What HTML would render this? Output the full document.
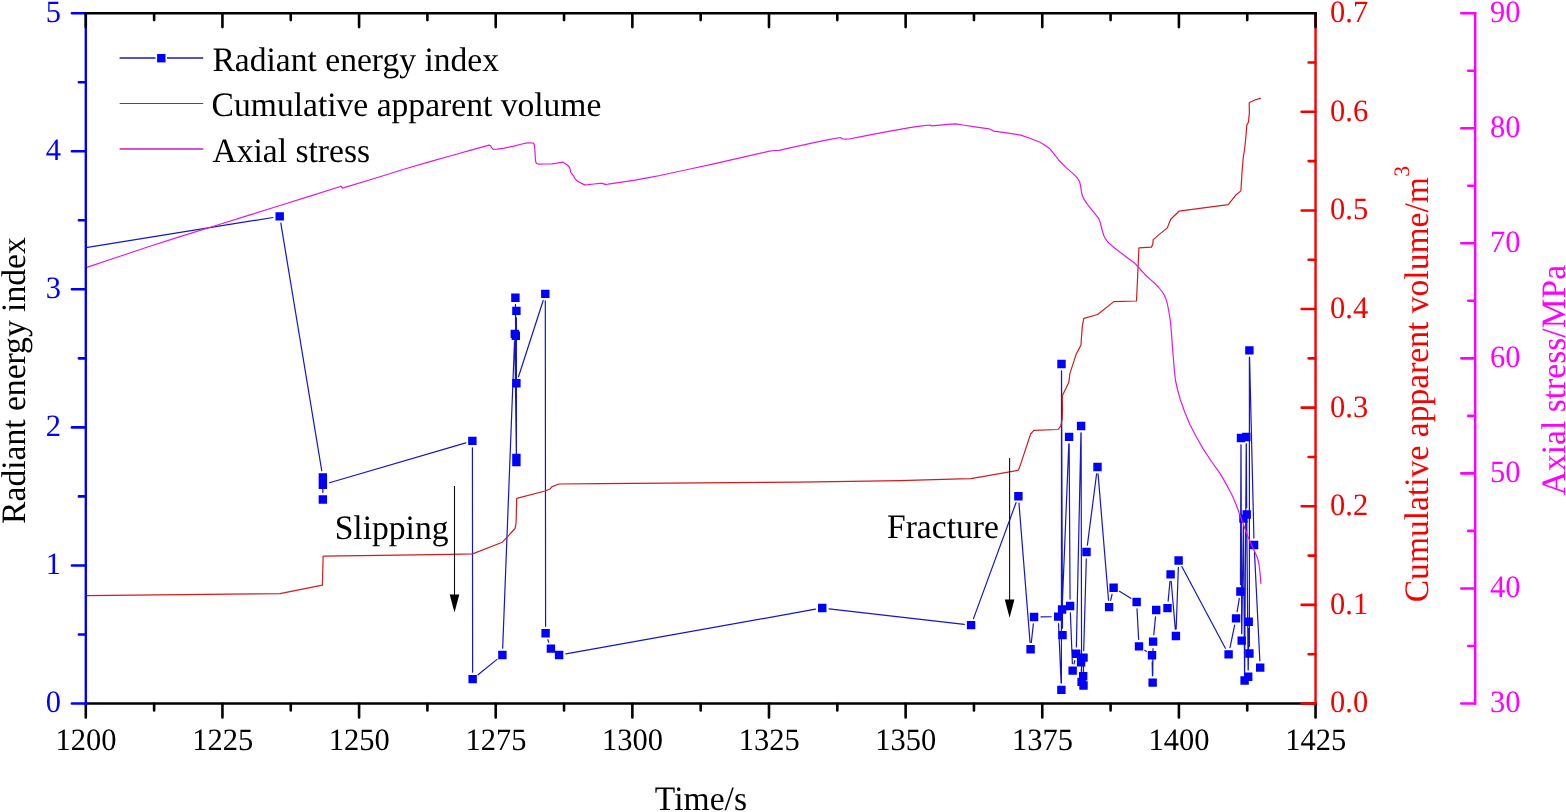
<!DOCTYPE html>
<html lang="en"><head><meta charset="utf-8"><title>Radiant energy index, cumulative apparent volume and axial stress versus time</title>
<style>
html,body{margin:0;padding:0;background:#fff;}
body{width:1566px;height:812px;overflow:hidden;}
svg{display:block;}
text{font-family:"Liberation Serif",serif;text-rendering:geometricPrecision;}
.t{font-size:33.6px;}
.l{font-size:30.5px;}
.ax{fill:none;stroke-width:2.4;stroke-linecap:square;}
.tk{fill:none;stroke-width:2.6;stroke-linecap:round;}
.d{fill:none;stroke-width:1.2;stroke-linejoin:round;stroke-linecap:round;}
</style></head><body>
<svg width="1566" height="812" viewBox="0 0 1566 812" role="img" aria-label="Radiant energy index, cumulative apparent volume and axial stress versus time">
<rect width="1566" height="812" fill="#fff"/>
<g id="curves">
<path class="d" stroke="#1616c4" d="M86 247.6L272.89 217.5M280.83 223.21L321.73 470.59M322.86 484.3L322.86 492.55M322.86 492.55L322.86 491.6M329.48 482.76L465.78 442.84M472.41 447.8L472.64 672.2M478.02 674.76L497.03 659.39M502.67 648.16L514.53 340.79M514.89 340.8L516.31 451M516.4 451L516.4 317.8M516.4 317.8L516.4 455.1M516.36 455.1L515.44 304.7M515.47 304.7L515.73 328.9M515.89 342.7L516.31 376.4M518.52 376.73L543.18 300.47M545.31 300.8L545.59 626.3M547.85 639.72L548.65 642.08M565.89 653.84L815.46 609.21M829.1 608.79L964.25 624.31M973.48 618.62L1016.02 502.68M1018.95 503.08L1030.05 642.42M1031.34 642.44L1033.36 623.91M1041 616.92L1051.3 616.73M1058.5 623.49L1061.1 683.01M1061.4 683L1061.5 370.9M1061.53 370.9L1062.47 628.2M1062.39 628.2L1062.21 616.4M1062.38 602.61L1068.82 443.79M1069.14 443.8L1070.06 599.1M1070.37 612.89L1072.38 663.71M1074.08 663.85L1074.77 660.55M1076.35 646.9L1080.95 432.9M1081.11 432.9L1081.59 675M1081.42 675L1081.28 669.2M1083.5 678.6L1083.5 664.5M1083.7 650.7L1086.3 558.9M1087.39 545.16L1096.61 473.79M1098.07 473.83L1108.53 600.22M1110.66 600.38L1112.04 594.42M1119.46 591.34L1130.79 598.36M1137.01 608.89L1138.64 639.51M1144.71 650.27L1146.29 651.33M1152.16 662.1L1152.49 675.7M1152.73 675.7L1153.02 648.5M1153.77 634.73L1155.53 616.87M1168.13 601.23L1169.97 581.27M1171.19 581.27L1175.31 629.13M1176.15 629.1L1178.35 567.4M1181.84 566.59L1225.36 648.31M1230 647.64L1234.65 625.16M1237.15 611.59L1239.3 598.31M1240.43 584.6L1240.97 444.95M1241.02 444.95L1241.68 633.7M1241.8 633.7L1243.35 525.5M1243.5 525.5L1244.55 673.6M1244.65 673.6L1246.25 443.9M1246.34 443.9L1246.66 507.6M1246.76 521.4L1248.14 669.9M1248.26 669.9L1248.64 628.7M1248.85 628.7L1249.25 646.6M1249.4 646.6L1249.4 357.3M1249.57 357.3L1253.93 538.1M1254.44 551.89L1259.86 660.71"/>
<path fill="#0000ff" d="M275.5 212.2h8.4v8.4h-8.4zM318.66 473.2h8.4v8.4h-8.4zM318.66 495.25h8.4v8.4h-8.4zM318.66 480.5h8.4v8.4h-8.4zM468.2 436.7h8.4v8.4h-8.4zM468.45 674.9h8.4v8.4h-8.4zM498.2 650.85h8.4v8.4h-8.4zM510.6 329.7h8.4v8.4h-8.4zM512.2 453.7h8.4v8.4h-8.4zM512.2 306.7h8.4v8.4h-8.4zM512.2 457.8h8.4v8.4h-8.4zM511.2 293.6h8.4v8.4h-8.4zM511.6 331.6h8.4v8.4h-8.4zM512.2 379.1h8.4v8.4h-8.4zM541.1 289.7h8.4v8.4h-8.4zM541.4 629h8.4v8.4h-8.4zM546.7 644.4h8.4v8.4h-8.4zM554.9 650.85h8.4v8.4h-8.4zM818.05 603.8h8.4v8.4h-8.4zM966.9 620.9h8.4v8.4h-8.4zM1014.2 492h8.4v8.4h-8.4zM1026.4 645.1h8.4v8.4h-8.4zM1029.9 612.85h8.4v8.4h-8.4zM1054 612.4h8.4v8.4h-8.4zM1057.2 685.7h8.4v8.4h-8.4zM1057.3 359.8h8.4v8.4h-8.4zM1058.3 630.9h8.4v8.4h-8.4zM1057.9 605.3h8.4v8.4h-8.4zM1064.9 432.7h8.4v8.4h-8.4zM1065.9 601.8h8.4v8.4h-8.4zM1068.45 666.4h8.4v8.4h-8.4zM1072 649.6h8.4v8.4h-8.4zM1076.9 421.8h8.4v8.4h-8.4zM1077.4 677.7h8.4v8.4h-8.4zM1076.9 658.1h8.4v8.4h-8.4zM1079 672h8.4v8.4h-8.4zM1079.3 681.3h8.4v8.4h-8.4zM1079.3 653.4h8.4v8.4h-8.4zM1082.3 547.8h8.4v8.4h-8.4zM1093.3 462.75h8.4v8.4h-8.4zM1104.9 602.9h8.4v8.4h-8.4zM1109.4 583.5h8.4v8.4h-8.4zM1132.45 597.8h8.4v8.4h-8.4zM1134.8 642.2h8.4v8.4h-8.4zM1147.8 651h8.4v8.4h-8.4zM1148.45 678.4h8.4v8.4h-8.4zM1148.9 637.4h8.4v8.4h-8.4zM1152 605.8h8.4v8.4h-8.4zM1163.3 603.9h8.4v8.4h-8.4zM1166.4 570.2h8.4v8.4h-8.4zM1171.7 631.8h8.4v8.4h-8.4zM1174.4 556.3h8.4v8.4h-8.4zM1224.4 650.2h8.4v8.4h-8.4zM1231.85 614.2h8.4v8.4h-8.4zM1236.2 587.3h8.4v8.4h-8.4zM1236.8 433.85h8.4v8.4h-8.4zM1237.5 636.4h8.4v8.4h-8.4zM1239.25 514.4h8.4v8.4h-8.4zM1240.4 676.3h8.4v8.4h-8.4zM1242.1 432.8h8.4v8.4h-8.4zM1242.5 510.3h8.4v8.4h-8.4zM1244 672.6h8.4v8.4h-8.4zM1244.5 617.6h8.4v8.4h-8.4zM1245.2 649.3h8.4v8.4h-8.4zM1245.2 346.2h8.4v8.4h-8.4zM1249.9 540.8h8.4v8.4h-8.4zM1256 663.4h8.4v8.4h-8.4z"/>
<polyline class="d" stroke="#d01c20" points="86,595.7 230,594.15 279.9,593.6 322.4,585.2 322.8,570 323.1,556.2 380,555.3 450,554.4 472.6,553.9 502.3,542.2 507.6,536.7 515.1,528.5 516.1,522.7 516.4,510 516.7,498.3 545.1,491 550.4,488.8 551.6,486.9 559,484 600,483.6 700,482.9 800,482.2 900,480.6 960,478.9 971,478.6 1018.1,470.3 1019.5,467.6 1030.6,434 1033.9,430.3 1058,429.5 1060.8,425.8 1062.2,419.1 1062.5,410 1062.3,395.7 1068.9,382.3 1069.85,373.6 1076.1,354.4 1080.9,345.3 1081.6,336 1082.3,326.4 1083.8,318.4 1097.6,314.5 1113.9,301.6 1136.5,301 1137.7,275 1138.9,247.8 1151.4,247.1 1152.8,244.4 1153.2,239.6 1159,234.6 1167.3,227.9 1170.7,219.3 1179,211.2 1228.3,204.7 1236.1,194.7 1240.9,190.9 1241.9,174 1243.3,157 1244.5,150 1246,135.7 1246.8,125.1 1248.4,122.3 1249.4,112.7 1249.2,102.8 1254.7,100 1260.4,98.4"/>
<polyline class="d" stroke="#e218e2" points="86,267.6 120,256.2 150,246.3 180,236.6 214.4,226 250,214.9 280,205.5 310,196.1 341.2,186.3 342.5,188.1 345,187.4 380,176.8 404.6,169 430,161.6 454.5,154.75 470,150.4 489.1,145.1 490.6,145.7 492,148.2 493.2,149.4 497,149.2 504.4,148.2 515,145.8 522,144 525.9,143.1 529,142.9 533.1,143 534.2,144.3 534.8,148.4 535.3,158 535.7,161.9 536.6,163.5 538.5,164.1 545,164 551.9,163.8 557,163.2 562.9,162.2 565,163.4 567.5,165.3 569.3,167 570.2,169.5 570.8,172.4 572,174 573.5,175.8 574.9,178.6 576.5,180.3 578.7,182 581.5,183.4 584.7,184.9 588,184.7 594,184 599.9,183.4 602.5,183.4 604.9,184.4 608,184.1 620,182.4 635,180.1 650,177.4 660,175.5 690,169 713.8,163.9 740,157.8 769.5,151.1 774,150.5 779.1,150.3 790,147.9 817.5,141.9 830,139.4 840.5,137.5 842.3,139 845,139.2 849.2,139 860,136.8 871.3,134.6 890,131.1 909.7,127.6 920,126.2 929.8,125 931.6,125.9 940,125.1 948,124.3 955.4,123.9 959,124.4 963,125 975,126.8 989,128.8 991.5,130 993.8,131.1 1005,132.7 1020.7,135.1 1030,138.2 1039.9,142.3 1045,145.2 1049.5,148.4 1054,153.8 1059.1,160.5 1066,167.4 1074.4,174.9 1077.5,178.2 1079.6,181.6 1080.6,186 1081.3,191 1082.1,195.1 1084,199.2 1086.9,203.7 1092,210.2 1098.4,218.1 1100.3,222.5 1101.5,227.5 1102.4,231 1103.9,235.8 1105.5,238.8 1108.2,242.5 1112,245.8 1116.8,249.7 1125,255.9 1135.1,263.6 1140,269 1144.7,274.2 1150,279.1 1155.2,283.8 1158.8,287.5 1162,291.5 1164.2,295 1165.8,298.4 1167.2,303 1168.3,308.5 1169.6,316 1170.6,323 1171.6,335 1172.5,347.6 1173.5,360 1174.4,370.6 1175.4,380 1177.5,389.5 1180.2,399.2 1184.5,411.5 1189.8,424.2 1196,436.3 1203.3,449.1 1211.5,461.5 1220.5,474.1 1226.5,484.6 1232.1,495.2 1236,504.2 1239.7,514.4 1243.5,524.8 1247.6,535.7 1252.5,547 1256,554.6 1257.6,558.3 1258.6,562.5 1259.5,568 1260.1,574 1260.6,579 1260.9,583.4"/>
</g>
<g id="annotations" fill="#000">
<line x1="454.5" y1="486" x2="454.5" y2="595.4" stroke="#111" stroke-width="1.1"/>
<path d="M449.7 594.4L459.3 594.4L454.5 612.6Z"/>
<line x1="1009.6" y1="458" x2="1009.6" y2="600.6" stroke="#111" stroke-width="1.1"/>
<path d="M1004.8 599.6L1014.4 599.6L1009.6 617.8Z"/>
<text transform="translate(391.6 538.6) scale(1 1.02)" text-anchor="middle" class="t">Slipping</text>
<text transform="translate(942.9 538) scale(1 1.02)" text-anchor="middle" class="t">Fracture</text>
</g>
<g id="legend">
<path class="d" style="stroke-linecap:butt;stroke-width:1.3" stroke="#1c1ca4" d="M119.6 58H155.6M167 58H203.2"/>
<rect x="157.1" y="54" width="8.4" height="8.4" fill="#0000ff"/>
<path class="d" style="stroke-linecap:butt" stroke="#d01c20" d="M119.6 103.5H203.2"/>
<path class="d" style="stroke-linecap:butt;stroke-width:1.3" stroke="#c01cc0" d="M119.6 149H203.2"/>
<text transform="translate(212.4 70.8) scale(1 1.02)" class="t">Radiant energy index</text>
<text transform="translate(211.6 116.4) scale(1 1.02)" class="t">Cumulative apparent volume</text>
<text transform="translate(212.4 162) scale(1 1.02)" class="t">Axial stress</text>
</g>
<g id="axis-bottom" stroke="#000">
<path class="ax" d="M85.8 703.5H1315.55"/>
<path class="tk" d="M85.8 703.8L85.8 717.4M154.12 703.8L154.12 710.4M222.44 703.8L222.44 717.4M290.76 703.8L290.76 710.4M359.08 703.8L359.08 717.4M427.4 703.8L427.4 710.4M495.72 703.8L495.72 717.4M564.04 703.8L564.04 710.4M632.36 703.8L632.36 717.4M700.67 703.8L700.67 710.4M768.99 703.8L768.99 717.4M837.31 703.8L837.31 710.4M905.63 703.8L905.63 717.4M973.95 703.8L973.95 710.4M1042.27 703.8L1042.27 717.4M1110.59 703.8L1110.59 710.4M1178.91 703.8L1178.91 717.4M1247.23 703.8L1247.23 710.4M1315.55 703.8L1315.55 717.4"/>
</g>
<g id="axis-left" stroke="#0000ff">
<path class="ax" d="M85.8 13.2V703.5"/>
<path class="tk" d="M85.5 703.5L71.9 703.5M85.5 634.47L78.9 634.47M85.5 565.44L71.9 565.44M85.5 496.41L78.9 496.41M85.5 427.38L71.9 427.38M85.5 358.35L78.9 358.35M85.5 289.32L71.9 289.32M85.5 220.29L78.9 220.29M85.5 151.26L71.9 151.26M85.5 82.23L78.9 82.23M85.5 13.2L71.9 13.2"/>
</g>
<g id="axis-right" stroke="#f60000">
<path class="ax" d="M1315.55 13.2V703.5"/>
<path class="tk" d="M1315.25 703.5L1301.65 703.5M1315.25 654.19L1308.65 654.19M1315.25 604.89L1301.65 604.89M1315.25 555.58L1308.65 555.58M1315.25 506.27L1301.65 506.27M1315.25 456.96L1308.65 456.96M1315.25 407.66L1301.65 407.66M1315.25 358.35L1308.65 358.35M1315.25 309.04L1301.65 309.04M1315.25 259.74L1308.65 259.74M1315.25 210.43L1301.65 210.43M1315.25 161.12L1308.65 161.12M1315.25 111.81L1301.65 111.81M1315.25 62.51L1308.65 62.51"/>
</g>
<g id="axis-top" stroke="#000">
<path class="ax" d="M85.8 13.2H1315.55"/>
<path class="tk" d="M85.8 13.5L85.8 27.1M154.12 13.5L154.12 20.1M222.44 13.5L222.44 27.1M290.76 13.5L290.76 20.1M359.08 13.5L359.08 27.1M427.4 13.5L427.4 20.1M495.72 13.5L495.72 27.1M564.04 13.5L564.04 20.1M632.36 13.5L632.36 27.1M700.67 13.5L700.67 20.1M768.99 13.5L768.99 27.1M837.31 13.5L837.31 20.1M905.63 13.5L905.63 27.1M973.95 13.5L973.95 20.1M1042.27 13.5L1042.27 27.1M1110.59 13.5L1110.59 20.1M1178.91 13.5L1178.91 27.1M1247.23 13.5L1247.23 20.1M1315.55 13.5L1315.55 27.1"/>
</g>
<g id="axis-stress" stroke="#ff00ff">
<path class="ax" d="M1475.2 13.2V703.5"/>
<path class="tk" d="M1474.9 703.5L1461.3 703.5M1474.9 645.98L1468.3 645.98M1474.9 588.45L1461.3 588.45M1474.9 530.92L1468.3 530.92M1474.9 473.4L1461.3 473.4M1474.9 415.88L1468.3 415.88M1474.9 358.35L1461.3 358.35M1474.9 300.82L1468.3 300.82M1474.9 243.3L1461.3 243.3M1474.9 185.78L1468.3 185.78M1474.9 128.25L1461.3 128.25M1474.9 70.73L1468.3 70.73M1474.9 13.2L1461.3 13.2"/>
</g>
<g id="labels-bottom" class="l" fill="#000" text-anchor="middle">
<text transform="translate(86 750.3) scale(1 1.02)">1200</text>
<text transform="translate(222.64 750.3) scale(1 1.02)">1225</text>
<text transform="translate(359.28 750.3) scale(1 1.02)">1250</text>
<text transform="translate(495.92 750.3) scale(1 1.02)">1275</text>
<text transform="translate(632.56 750.3) scale(1 1.02)">1300</text>
<text transform="translate(769.19 750.3) scale(1 1.02)">1325</text>
<text transform="translate(905.83 750.3) scale(1 1.02)">1350</text>
<text transform="translate(1042.47 750.3) scale(1 1.02)">1375</text>
<text transform="translate(1179.11 750.3) scale(1 1.02)">1400</text>
<text transform="translate(1315.75 750.3) scale(1 1.02)">1425</text>
</g>
<g id="labels-left" class="l" fill="#0000ff" text-anchor="end">
<text transform="translate(61.1 712.1) scale(1 1.02)">0</text>
<text transform="translate(61.1 574.04) scale(1 1.02)">1</text>
<text transform="translate(61.1 435.98) scale(1 1.02)">2</text>
<text transform="translate(61.1 297.92) scale(1 1.02)">3</text>
<text transform="translate(61.1 159.86) scale(1 1.02)">4</text>
<text transform="translate(61.1 21.8) scale(1 1.02)">5</text>
</g>
<g id="labels-right" class="l" fill="#f60000">
<text transform="translate(1330.1 712.4) scale(1 1.02)">0.0</text>
<text transform="translate(1330.1 613.79) scale(1 1.02)">0.1</text>
<text transform="translate(1330.1 515.17) scale(1 1.02)">0.2</text>
<text transform="translate(1330.1 416.56) scale(1 1.02)">0.3</text>
<text transform="translate(1330.1 317.94) scale(1 1.02)">0.4</text>
<text transform="translate(1330.1 219.33) scale(1 1.02)">0.5</text>
<text transform="translate(1330.1 120.71) scale(1 1.02)">0.6</text>
<text transform="translate(1330.1 22.1) scale(1 1.02)">0.7</text>
</g>
<g id="labels-stress" class="l" fill="#ff00ff">
<text transform="translate(1490.1 711.9) scale(1 1.02)">30</text>
<text transform="translate(1490.1 596.85) scale(1 1.02)">40</text>
<text transform="translate(1490.1 481.8) scale(1 1.02)">50</text>
<text transform="translate(1490.1 366.75) scale(1 1.02)">60</text>
<text transform="translate(1490.1 251.7) scale(1 1.02)">70</text>
<text transform="translate(1490.1 136.65) scale(1 1.02)">80</text>
<text transform="translate(1490.1 21.6) scale(1 1.02)">90</text>
</g>
<g id="titles" class="t" text-anchor="middle">
<text transform="translate(700.9 809.7) scale(1 1.02)" fill="#000">Time/s</text>
<text transform="translate(25.3 380.6) rotate(-90) scale(1 1.02)" fill="#000">Radiant energy index</text>
<text transform="translate(1427.7 384.1) rotate(-90) scale(1 1.02)" fill="#f60000">Cumulative apparent volume/m<tspan dx="0.4" dy="-18" font-size="21.6">3</tspan></text>
<text transform="translate(1564.9 380.1) rotate(-90) scale(1 1.02)" fill="#ff00ff">Axial stress/MPa</text>
</g>
</svg>
</body></html>
